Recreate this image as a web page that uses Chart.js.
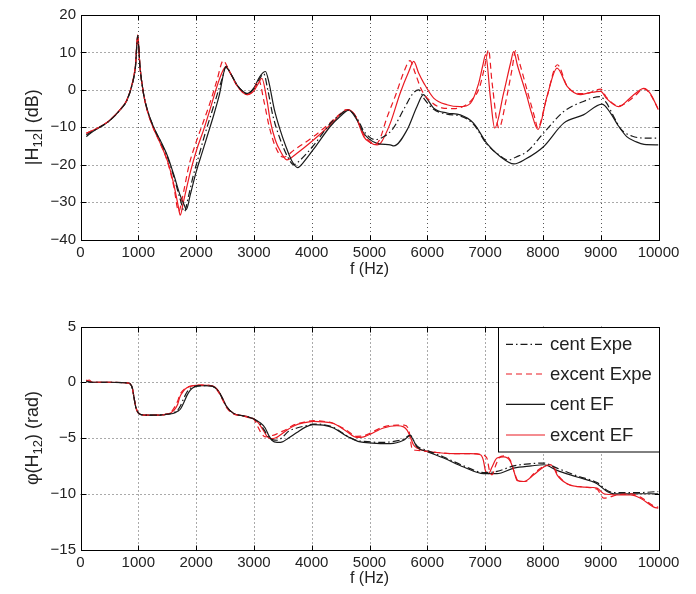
<!DOCTYPE html>
<html>
<head>
<meta charset="utf-8">
<script src="https://cdn.jsdelivr.net/npm/chart.js@4"></script>
<style>
  body { margin: 0; background: #fff; width: 696px; height: 594px; overflow: hidden; position: relative; }
  .box { position: absolute; left: 0; width: 696px; }
  #topBox { top: 0; height: 290px; }
  #botBox { top: 300px; height: 294px; }
</style>
</head>
<body>
<div class="box" id="topBox"><canvas id="magChart"></canvas></div>
<div class="box" id="botBox"><canvas id="phaseChart"></canvas></div>
<script>
// |H12| (dB) curves
const magCentExpeHz = [100,300,500,700,800,900,950,990,1030,1090,1150,1260,1380,1500,1610,1720,1800,1860,1950,2050,2150,2250,2350,2450,2520,2600,2700,2800,2880,3000,3100,3170,3240,3330,3450,3580,3690,3800,4050,4320,4500,4620,4800,4900,5100,5250,5400,5600,5750,5850,5950,6110,6340,6570,6800,7030,7250,7400,7530,7726,8010,8360,8700,8990,9100,9220,9350,9550,9800,10000];
const magCentExpe = [-12,-10.3,-8.3,-5.1,-2.9,1.8,6,14.5,6,-1,-5,-9.8,-13.7,-17.8,-23,-29,-32.5,-29,-23,-17.5,-12,-7,-2,3,6.3,4.3,1.5,-0.3,-1,0.3,3,4.3,0,-7,-13,-17.8,-20,-18.8,-14.5,-9,-6.5,-5.4,-8,-11,-13.3,-12.5,-10.5,-5,-1,0,-2.5,-5.2,-6.5,-7,-9.2,-14.5,-17.5,-18.8,-18,-16.5,-11.6,-5.8,-3.1,-1.8,-3.5,-7,-10.5,-12.4,-12.9,-12.9];

const magExcentExpeHz = [100,300,500,700,800,900,950,990,1030,1090,1150,1260,1380,1500,1610,1700,1760,1880,2000,2120,2240,2360,2470,2560,2700,2800,2880,3000,3080,3180,3260,3380,3510,3700,4030,4320,4500,4600,4750,4900,5000,5100,5170,5300,5450,5600,5700,5790,5900,6050,6250,6450,6600,6780,6900,6990,7060,7120,7240,7360,7460,7530,7600,7760,7860,7910,8060,8250,8420,8650,8800,9000,9100,9310,9500,9600,9745,9850,10000];
const magExcentExpe = [-11.6,-10.2,-8.2,-5,-2.8,2,6.5,14.3,6,-1,-5.3,-10.2,-14.3,-19,-25.5,-32.5,-29,-20,-14,-8.8,-3.5,2.5,7.8,5.5,1.3,-0.6,-1.3,0,2.7,-3.5,-9.5,-15.5,-18,-16,-12.5,-8.8,-6.3,-5.3,-6.8,-12,-13.7,-14.6,-13.5,-7.5,-1.5,5,7.8,4.5,0,-3,-4.8,-5,-4.6,-2.5,0.5,6,10.7,2,-10.2,-3,5,10.5,7,-2,-7.5,-10.2,-2.5,6.7,1,-1,-0.8,0.2,-2,-4.3,-2.8,-1.5,0.3,-1,-5.3];

const magCentEFHz = [100,200,300,500,700,800,900,950,990,1030,1090,1150,1260,1380,1500,1610,1720,1800,1830,1900,2000,2100,2200,2300,2400,2515,2600,2700,2800,2880,3000,3100,3200,3260,3350,3450,3550,3650,3760,3850,4050,4320,4500,4640,4800,4900,5130,5360,5420,5650,5820,5935,6000,6110,6340,6570,6800,7030,7260,7500,7700,8010,8360,8700,9025,9170,9300,9450,9600,9750,10000];
const magCentEF = [-12.5,-11.3,-10.3,-8.3,-5.1,-2.9,1.8,6,14,6,-1,-5,-9.8,-13.5,-17.5,-22.5,-28,-31,-32,-28,-22,-17,-12,-7,-1.5,6,4.3,1.5,-0.3,-1,0.5,3.5,4.9,2,-5,-10.5,-15,-18.8,-20.8,-19.5,-15.5,-9.8,-7,-5.4,-8.5,-11.6,-14.3,-14.7,-15,-10.7,-4.5,-1.3,-2.5,-4.9,-6.2,-6.7,-8.9,-14.3,-17.8,-19.8,-18.5,-15.2,-8.9,-6.7,-3.8,-6.2,-9.5,-12.5,-13.8,-14.6,-14.7];

const magExcentEFHz = [100,300,500,700,800,900,950,990,1030,1090,1150,1260,1380,1500,1610,1690,1725,1780,1900,2010,2130,2240,2360,2445,2515,2590,2700,2800,2880,3000,3080,3137,3225,3280,3370,3455,3570,3740,4030,4320,4500,4620,4750,4900,5000,5130,5190,5360,5530,5680,5765,5850,5940,6110,6340,6570,6745,6890,6960,7010,7090,7166,7320,7440,7495,7560,7725,7800,7915,8070,8245,8420,8650,8800,9000,9100,9310,9500,9600,9745,9850,10000];
const magExcentEF = [-11.6,-10.2,-8.2,-5,-2.8,2,6.5,14.7,6,-1,-5.3,-10.2,-14.3,-18.8,-25,-31,-33.5,-30,-22,-16,-10.7,-5.3,0.9,4.5,6.2,4.5,1.3,-0.6,-1.3,-0.3,1.8,3.1,-2.7,-8,-13.4,-16.3,-18.7,-17,-13.4,-9.4,-6.5,-5.3,-6.8,-12.5,-14,-14.7,-14.3,-8.9,-0.9,4.9,7.6,4.5,1.8,-2.2,-4,-4.5,-3.6,1.8,6.5,9.4,-1.8,-10.2,-0.9,7.1,10.2,6.5,-1.8,-6,-10.6,-1.8,5.8,0.9,-1.3,-0.8,-0.4,-2.3,-4.5,-2.3,-1,0.4,-0.8,-5.3];

// phi(H12) (rad) curves
const phCentExpeHz = [100,200,500,800,860,900,930,960,1000,1100,1300,1450,1600,1680,1730,1790,1840,1900,1960,2100,2250,2330,2400,2470,2530,2650,2800,2900,3000,3100,3180,3250,3320,3420,3500,3600,3743,3900,4032,4200,4378,4609,4800,4900,5190,5360,5590,5706,5760,5821,5994,6283,6629,6975,7206,7495,7800,8014,8245,8591,8937,9111,9226,9630,10000];
const phCentExpe = [0.1,0,0,-0.05,-0.15,-0.6,-1.5,-2.3,-2.75,-2.95,-2.95,-2.9,-2.75,-2.5,-2.1,-1.4,-0.9,-0.55,-0.4,-0.3,-0.33,-0.5,-0.9,-1.6,-2.2,-2.8,-3,-3.1,-3.3,-3.7,-4.3,-4.9,-5.15,-5.2,-4.9,-4.4,-4.1,-3.9,-3.75,-3.8,-4.05,-4.8,-5.25,-5.3,-5.4,-5.35,-5.1,-4.75,-5.2,-5.7,-6.1,-6.7,-7.5,-8.1,-8,-7.5,-7.3,-7.25,-7.7,-8.4,-9,-9.7,-9.9,-9.9,-9.8];

const phExcentExpeHz = [100,150,200,500,800,860,900,930,960,1000,1100,1300,1450,1560,1620,1680,1720,1780,1840,1950,2100,2250,2330,2400,2470,2530,2650,2800,2900,3000,3050,3120,3200,3290,3370,3450,3570,3700,3850,4030,4200,4380,4600,4780,4900,5013,5244,5475,5600,5680,5740,5800,5994,6167,6456,6745,6950,7030,7080,7120,7180,7240,7330,7437,7520,7580,7700,7841,8030,8150,8270,8418,8706,8937,9053,9150,9284,9515,9688,9919,10000];
const phExcentExpe = [0.2,0.1,0,0,-0.05,-0.15,-0.6,-1.5,-2.3,-2.75,-2.95,-2.95,-2.9,-2.7,-2.3,-1.7,-1.1,-0.7,-0.45,-0.3,-0.25,-0.3,-0.5,-1,-1.7,-2.3,-2.85,-3,-3.1,-3.3,-3.8,-4.5,-4.9,-4.8,-4.7,-4.5,-4.2,-3.8,-3.6,-3.45,-3.5,-3.7,-4.3,-4.85,-4.8,-4.55,-4,-3.85,-3.85,-4.3,-6,-6.1,-6.2,-6.3,-6.4,-6.4,-6.5,-6.8,-8,-8.3,-7.5,-6.8,-6.6,-7,-8.3,-8.9,-8.9,-8.2,-7.5,-7.4,-8.4,-9.1,-9.4,-9.6,-10.4,-10.3,-10.1,-10,-10.3,-11.1,-11.2];

const phCentEFHz = [100,200,500,800,860,900,930,960,1000,1100,1300,1450,1600,1680,1730,1790,1840,1900,1960,2100,2250,2330,2400,2470,2530,2650,2800,2900,3000,3100,3195,3260,3310,3400,3460,3600,3743,3900,4032,4200,4378,4609,4800,4900,5190,5360,5590,5706,5760,5821,5994,6283,6629,6975,7206,7495,7800,8014,8245,8591,8937,9111,9226,9630,10000];
const phCentEF = [0.1,0,0,-0.05,-0.15,-0.6,-1.5,-2.3,-2.75,-2.95,-2.95,-2.9,-2.8,-2.6,-2.4,-1.8,-1.2,-0.7,-0.45,-0.3,-0.33,-0.5,-0.9,-1.6,-2.2,-2.8,-3,-3.1,-3.3,-3.6,-4.1,-4.8,-5.2,-5.4,-5.4,-5,-4.5,-4,-3.8,-3.85,-4.1,-4.85,-5.3,-5.4,-5.5,-5.5,-5.2,-4.8,-5.2,-5.8,-6.2,-6.8,-7.6,-8.2,-8.2,-7.7,-7.5,-7.4,-7.9,-8.5,-9.1,-9.8,-10,-10,-10];

const phExcentEFHz = [100,150,200,500,800,860,900,930,960,1000,1100,1300,1450,1560,1620,1680,1720,1780,1840,1950,2100,2250,2330,2400,2470,2530,2650,2800,2900,3000,3070,3150,3220,3290,3370,3450,3570,3700,3850,4030,4200,4380,4600,4780,4900,5013,5244,5475,5590,5650,5706,5760,5821,5994,6167,6456,6745,6918,6970,7004,7062,7120,7206,7322,7437,7500,7553,7668,7841,8014,8130,8200,8245,8418,8706,8937,9053,9284,9515,9688,9919,10000];
const phExcentEF = [0.1,0.2,0,0,-0.05,-0.15,-0.6,-1.5,-2.3,-2.75,-2.95,-2.95,-2.9,-2.75,-2.5,-2,-1.3,-0.8,-0.5,-0.3,-0.25,-0.3,-0.45,-0.9,-1.6,-2.2,-2.8,-3,-3.15,-3.3,-3.6,-4.2,-4.8,-5.05,-5,-4.75,-4.3,-3.9,-3.65,-3.5,-3.55,-3.7,-4.4,-4.95,-4.9,-4.65,-4.1,-3.9,-4,-4.3,-4.9,-5.6,-5.9,-6.2,-6.3,-6.4,-6.4,-6.5,-7,-7.9,-8.2,-7.6,-6.8,-6.7,-7.1,-8,-8.8,-8.9,-8.3,-7.6,-7.4,-7.8,-8.3,-9.1,-9.4,-9.5,-10,-10.1,-10.1,-10.4,-11.2,-11.3];

const seriesLabels = ['cent Expe', 'excent Expe', 'cent EF', 'excent EF'];

const BLACK = '#1a1a1a';
const RED = '#ea1a22';
const FONT = '"Liberation Sans", Arial, Helvetica, sans-serif';
const styles = [
  { color: BLACK, dash: [7, 3, 1.5, 3] },
  { color: RED, dash: [6, 4] },
  { color: BLACK, dash: [] },
  { color: RED, dash: [] }
];

const byId = (id) => document.getElementById(id);
const pts = (xs, ys) => xs.map((x, i) => ({ x, y: ys[i] }));
const minus = (v) => String(v).replace('-', '\u2212');

function datasets(pairs) {
  return pairs.map(([xs, ys], i) => ({
    label: seriesLabels[i],
    data: pts(xs, ys),
    borderColor: styles[i].color,
    borderDash: styles[i].dash,
    borderWidth: 1.2,
    pointRadius: 0,
    fill: false,
    cubicInterpolationMode: 'monotone'
  }));
}

function drawLegend(chart) {
  const { ctx, chartArea: a } = chart;
  const w = 161, h = 124.5;
  const left = Math.round(a.right - w) + 0.5, top = Math.round(a.top) + 0.5;
  ctx.save();
  ctx.fillStyle = '#fff';
  ctx.fillRect(left, top, w, h);
  ctx.strokeStyle = '#000';
  ctx.lineWidth = 1;
  ctx.strokeRect(left, top, w, h);
  ctx.font = `18.5px ${FONT}`;
  ctx.textAlign = 'left';
  ctx.textBaseline = 'middle';
  const rows = [17.8, 47.5, 77.8, 108.5];
  chart.data.datasets.forEach((ds, i) => {
    const y = a.top + rows[i];
    ctx.strokeStyle = ds.borderColor;
    ctx.lineWidth = 1.2;
    ctx.setLineDash(ds.borderDash);
    ctx.beginPath();
    ctx.moveTo(a.right - 152.5, y);
    ctx.lineTo(a.right - 113.5, y);
    ctx.stroke();
    ctx.setLineDash([]);
    ctx.fillStyle = '#222';
    ctx.fillText(ds.label, a.right - 108.5, y + 1);
  });
  ctx.restore();
}

const framePlugin = {
  id: 'frame',
  beforeDatasetsDraw(chart) {
    const { ctx, chartArea: a, scales: { x, y } } = chart;
    ctx.save();
    ctx.strokeStyle = '#555';
    ctx.lineWidth = 1;
    ctx.setLineDash([1, 3]);
    ctx.beginPath();
    x.ticks.forEach(t => {
      const px = Math.round(x.getPixelForValue(t.value)) + 0.5;
      if (px - a.left > 2 && a.right - px > 2) { ctx.moveTo(px, a.top); ctx.lineTo(px, a.bottom); }
    });
    y.ticks.forEach(t => {
      const py = Math.round(y.getPixelForValue(t.value)) + 0.5;
      if (py - a.top > 2 && a.bottom - py > 2) { ctx.moveTo(a.left, py); ctx.lineTo(a.right, py); }
    });
    ctx.stroke();
    ctx.restore();
  },
  afterDraw(chart, args, opts) {
    const { ctx, chartArea: a, scales: { x, y } } = chart;
    ctx.save();
    ctx.strokeStyle = '#000';
    ctx.lineWidth = 1;
    ctx.setLineDash([]);
    const L = Math.round(a.left) + 0.5, R = Math.round(a.right) + 0.5;
    const T = Math.round(a.top) + 0.5, B = Math.round(a.bottom) + 0.5;
    ctx.strokeRect(L, T, R - L, B - T);
    // matlab style inner tick marks
    ctx.beginPath();
    x.ticks.forEach(t => {
      const px = Math.round(x.getPixelForValue(t.value)) + 0.5;
      ctx.moveTo(px, B); ctx.lineTo(px, B - 5);
      ctx.moveTo(px, T); ctx.lineTo(px, T + 5);
    });
    y.ticks.forEach(t => {
      const py = Math.round(y.getPixelForValue(t.value)) + 0.5;
      ctx.moveTo(L, py); ctx.lineTo(L + 5, py);
      ctx.moveTo(R, py); ctx.lineTo(R - 5, py);
    });
    ctx.stroke();

    ctx.fillStyle = '#222';
    ctx.textBaseline = 'middle';
    ctx.textAlign = 'center';
    ctx.font = `16px ${FONT}`;
    ctx.fillText(opts.xTitle, (a.left + a.right) / 2, a.bottom + opts.xTitleGap);

    // y title with subscript
    ctx.translate(opts.yTitleX, (a.top + a.bottom) / 2);
    ctx.rotate(-Math.PI / 2);
    const [pre, sub, post] = opts.yTitle;
    const big = `18px ${FONT}`, small = `13px ${FONT}`;
    ctx.font = big;
    const w1 = ctx.measureText(pre).width, w3 = ctx.measureText(post).width;
    ctx.font = small;
    const w2 = ctx.measureText(sub).width;
    let cx = -(w1 + w2 + w3) / 2;
    ctx.textAlign = 'left';
    ctx.font = big; ctx.fillText(pre, cx, 0); cx += w1;
    ctx.font = small; ctx.fillText(sub, cx, 5.5); cx += w2;
    ctx.font = big; ctx.fillText(post, cx, 0);
    ctx.restore();

    if (opts.legend) drawLegend(chart);
  }
};

function makeChart(canvasId, pairs, cfg) {
  return new Chart(byId(canvasId), {
    type: 'line',
    data: { datasets: datasets(pairs) },
    plugins: [framePlugin],
    options: {
      responsive: true,
      maintainAspectRatio: false,
      animation: false,
      layout: { padding: { top: cfg.padTop, right: 37.5, left: 0, bottom: 0 } },
      plugins: {
        legend: { display: false },
        tooltip: { enabled: false },
        frame: { xTitle: 'f (Hz)', xTitleGap: cfg.xTitleGap, yTitle: cfg.yTitle, yTitleX: 33, legend: cfg.legend }
      },
      scales: {
        x: {
          type: 'linear',
          min: 0,
          max: 10000,
          afterFit: (s) => { s.height = cfg.xAxisH; },
          grid: { display: false, drawTicks: false },
          border: { display: false },
          ticks: {
            stepSize: 1000,
            autoSkip: false,
            maxRotation: 0,
            padding: 4,
            color: '#222',
            font: { family: FONT, size: 15 },
            callback: (v) => String(v)
          }
        },
        y: {
          min: cfg.yMin,
          max: cfg.yMax,
          afterFit: (s) => { s.width = 80.5; },
          grid: { display: false, drawTicks: false },
          border: { display: false },
          ticks: {
            stepSize: cfg.yStep,
            padding: 4.5,
            color: '#222',
            font: { family: FONT, size: 15 },
            callback: (v) => minus(v)
          }
        }
      }
    }
  });
}

makeChart('magChart', [
  [magCentExpeHz, magCentExpe],
  [magExcentExpeHz, magExcentExpe],
  [magCentEFHz, magCentEF],
  [magExcentEFHz, magExcentEF]
], { yMin: -40, yMax: 20, yStep: 10, padTop: 15, xAxisH: 50.5, xTitleGap: 30.5, yTitle: ['|H', '12', '| (dB)'], legend: false });

makeChart('phaseChart', [
  [phCentExpeHz, phCentExpe],
  [phExcentExpeHz, phExcentExpe],
  [phCentEFHz, phCentEF],
  [phExcentEFHz, phExcentEF]
], { yMin: -15, yMax: 5, yStep: 5, padTop: 26.5, xAxisH: 44.5, xTitleGap: 29, yTitle: ['\u03c6(H', '12', ') (rad)'], legend: true });
</script>
</body>
</html>
